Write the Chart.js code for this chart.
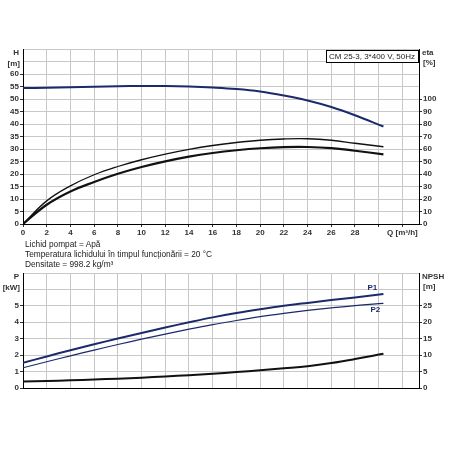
<!DOCTYPE html>
<html>
<head>
<meta charset="utf-8">
<script src="https://cdn.jsdelivr.net/npm/chart.js@4.4.1/dist/chart.umd.min.js"></script>
<style>
body { margin: 0; background: #fff; }
#wrap { position: relative; width: 450px; height: 450px; overflow: hidden; }
canvas { position: absolute; left: 0; }
#topChart { top: 0; }
#botChart { top: 250px; }
#info { position: absolute; left: 25px; top: 239px; font: 8.3px "Liberation Sans", Arial, sans-serif; color: #222; line-height: 10px; }
</style>
</head>
<body>
<div id="wrap">
  <canvas id="topChart" width="450" height="240"></canvas>
  <div id="info">
    Lichid pompat = Apă<br>
    Temperatura lichidului în timpul funcționării = 20 °C<br>
    Densitate = 998.2 kg/m³
  </div>
  <canvas id="botChart" width="450" height="150"></canvas>
</div>
<script>
// flow values (m3/h)
var qH = [0, 2, 4, 6, 8, 10, 12, 14, 16, 18, 20, 22, 24, 26, 28, 30.4];
var hVals = [54.4, 54.5, 54.7, 54.9, 55.1, 55.2, 55.2, 55.0, 54.6, 54.0, 53.0, 51.4, 49.4, 46.8, 43.5, 39.0];

var qEta = [0, 2, 4, 6, 8, 10, 12, 14, 16, 18, 20, 22, 24, 26, 28, 30.4];
var eta1 = [0, 18.5, 30.5, 39.4, 46, 51.4, 55.9, 59.7, 62.8, 65.2, 67.0, 68.0, 68.2, 67.0, 64.6, 61.8];
var eta2 = [0, 15.4, 26, 33.6, 40.2, 45.6, 50.1, 53.9, 56.8, 59.0, 60.6, 61.5, 61.6, 60.7, 58.6, 55.7];

var qP = [0, 2, 4, 6, 8, 10, 12, 14, 16, 18, 20, 22, 24, 26, 28, 30.4];
var p1 = [1.53, 1.92, 2.3, 2.66, 3.01, 3.35, 3.68, 4.0, 4.3, 4.56, 4.79, 5.0, 5.18, 5.35, 5.51, 5.72];
var p2 = [1.23, 1.6, 1.96, 2.31, 2.65, 2.97, 3.28, 3.58, 3.86, 4.11, 4.34, 4.54, 4.72, 4.88, 5.02, 5.15];
var npsh = [2.0, 2.15, 2.35, 2.6, 2.85, 3.15, 3.5, 3.9, 4.35, 4.85, 5.4, 6.0, 6.65, 7.6, 8.8, 10.4];

var xTicks = [0, 2, 4, 6, 8, 10, 12, 14, 16, 18, 20, 22, 24, 26, 28, 30, 32];
var modelText = 'CM 25-3, 3*400 V, 50Hz';

var navy = '#1b2a6b';
var gridCol = '#c8c8c8';
var txtCol = '#333';
var boldFont = 'bold 8px "Liberation Sans", Arial, sans-serif';

Chart.defaults.font.family = '"Liberation Sans", Arial, sans-serif';
Chart.defaults.font.size = 8;
Chart.defaults.color = txtCol;

function pts(xs, ys) {
    var out = [];
    for (var i = 0; i < xs.length; i++) out.push({ x: xs[i], y: ys[i] });
    return out;
}

function line(data, color, width, axis) {
    return {
        data: data, borderColor: color, borderWidth: width, pointRadius: 0,
        fill: false, tension: 0.4, yAxisID: axis
    };
}

function xScale(showLabels, h) {
    return {
        type: 'linear', min: 0, max: 33.4,
        afterBuildTicks: function(s) { s.ticks = xTicks.map(function(v) { return { value: v }; }); },
        afterFit: function(s) { s.height = h; },
        grid: { color: gridCol, tickColor: txtCol, tickLength: showLabels ? 3 : 0, drawTicks: showLabels },
        border: { color: '#000', width: 1 },
        ticks: {
            display: showLabels, padding: 1, maxRotation: 0, autoSkip: false,
            font: { weight: 'bold' },
            callback: function(v) { return v <= 28 ? v : (v == 32 ? 'Q [m³/h]' : ''); }
        }
    };
}

function yScale(pos, max, step, maxNum, w, drawGrid) {
    return {
        type: 'linear', position: pos, min: 0, max: max,
        afterFit: function(s) { s.width = w; },
        grid: {
            color: gridCol, drawOnChartArea: drawGrid, tickLength: 3,
            tickColor: function(c) { return c.tick && c.tick.value > maxNum ? 'rgba(0,0,0,0)' : txtCol; }
        },
        border: { color: '#000', width: 1 },
        ticks: {
            stepSize: step, padding: 1, autoSkip: false,
            font: { weight: 'bold' },
            callback: function(v) { return v <= maxNum ? v : ''; }
        }
    };
}

// axis titles drawn just under the top of the plot, like the reference
function axisNames(leftId, leftNames, rightId, rightNames) {
    return {
        id: 'axisNames',
        afterDraw: function(chart) {
            var ctx = chart.ctx, top = chart.chartArea.top;
            var l = chart.scales[leftId], r = chart.scales[rightId];
            ctx.save();
            ctx.font = boldFont;
            ctx.fillStyle = txtCol;
            ctx.textBaseline = 'middle';
            ctx.textAlign = 'right';
            ctx.fillText(leftNames[0], l.right - 4, top + 4);
            ctx.fillText(leftNames[1], l.right - 3, top + 15);
            ctx.textAlign = 'left';
            ctx.fillText(rightNames[0], r.left + 3, top + 4);
            ctx.fillText(rightNames[1], r.left + 4, top + 14);
            ctx.restore();
        }
    };
}

var modelBox = {
    id: 'modelBox',
    afterDraw: function(chart) {
        var ctx = chart.ctx, a = chart.chartArea;
        ctx.save();
        ctx.font = '8px "Liberation Sans", Arial, sans-serif';
        var w = ctx.measureText(modelText).width + 6;
        var x = a.right - 1 - w, y = a.top + 1;
        ctx.fillStyle = '#fff';
        ctx.fillRect(x, y, w, 12);
        ctx.strokeStyle = '#000';
        ctx.lineWidth = 1;
        ctx.strokeRect(Math.round(x) + 0.5, Math.round(y) + 0.5, Math.round(w), 12);
        ctx.fillStyle = '#222';
        ctx.textBaseline = 'middle';
        ctx.fillText(modelText, x + 3, y + 6.5);
        ctx.restore();
    }
};

var pLabels = {
    id: 'pLabels',
    afterDatasetsDraw: function(chart) {
        var ctx = chart.ctx;
        var a = chart.getDatasetMeta(0).data, b = chart.getDatasetMeta(1).data;
        var e1 = a[a.length - 1], e2 = b[b.length - 1];
        ctx.save();
        ctx.font = boldFont;
        ctx.fillStyle = navy;
        ctx.textAlign = 'center';
        ctx.textBaseline = 'middle';
        ctx.fillText('P1', e1.x - 11, e1.y - 6);
        ctx.fillText('P2', e2.x - 8, e2.y + 6);
        ctx.restore();
    }
};

new Chart(document.getElementById('topChart'), {
    type: 'line',
    data: {
        datasets: [
            line(pts(qH, hVals), navy, 2, 'yH'),
            line(pts(qEta, eta1), '#111', 1.3, 'yEta'),
            line(pts(qEta, eta2), '#111', 2.2, 'yEta')
        ]
    },
    options: {
        responsive: false, animation: false,
        layout: { padding: { top: 49, left: 0, right: 0, bottom: 0 } },
        plugins: { legend: { display: false }, tooltip: { enabled: false } },
        scales: {
            x: xScale(true, 16),
            yH: yScale('left', 70, 5, 60, 23, true),
            yEta: yScale('right', 140, 10, 100, 31, false)
        }
    },
    plugins: [modelBox, axisNames('yH', ['H', '[m]'], 'yEta', ['eta', '[%]'])]
});

new Chart(document.getElementById('botChart'), {
    type: 'line',
    data: {
        datasets: [
            line(pts(qP, p1), navy, 2, 'yP'),
            line(pts(qP, p2), navy, 1.2, 'yP'),
            line(pts(qP, npsh), '#111', 2, 'yN')
        ]
    },
    options: {
        responsive: false, animation: false,
        layout: { padding: { top: 23, left: 0, right: 0, bottom: 0 } },
        plugins: { legend: { display: false }, tooltip: { enabled: false } },
        scales: {
            x: xScale(false, 12),
            yP: yScale('left', 7, 1, 5, 23, true),
            yN: yScale('right', 35, 5, 25, 31, false)
        }
    },
    plugins: [pLabels, axisNames('yP', ['P', '[kW]'], 'yN', ['NPSH', '[m]'])]
});
</script>
</body>
</html>
